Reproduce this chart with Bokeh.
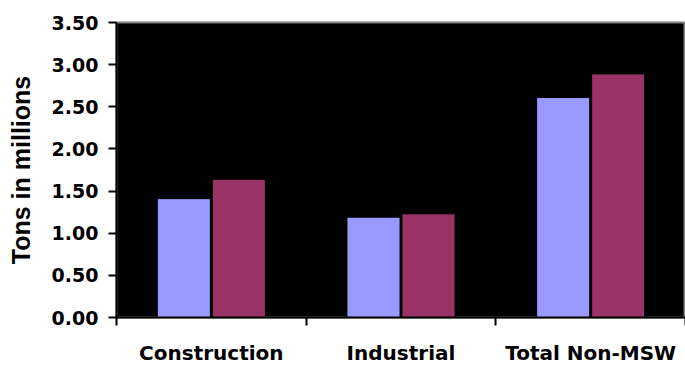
from bokeh.plotting import figure
from bokeh.models import ColumnDataSource, Range1d, FixedTicker, NumeralTickFormatter
from bokeh.embed import file_html
from bokeh.resources import INLINE

# Waste generation by source, tons in millions
categories = ["Construction", "Industrial", "Total Non-MSW"]
series_a = [1.41, 1.19, 2.61]
series_b = [1.64, 1.23, 2.89]
y_ticks = [0.0, 0.5, 1.0, 1.5, 2.0, 2.5, 3.0, 3.5]

centers = [i + 0.5 for i in range(len(categories))]
bar_w = 0.28
shift = 0.145

src = ColumnDataSource(dict(
    xa=[c - shift for c in centers],
    xb=[c + shift for c in centers],
    a=series_a,
    b=series_b,
))

p = figure(width=685, height=368, output_backend="svg", toolbar_location=None,
           x_range=Range1d(0, len(categories)), y_range=Range1d(0, 3.5),
           min_border_left=116, min_border_right=0, min_border_top=22,
           min_border_bottom=51)

p.background_fill_color = "black"
p.border_fill_color = "white"
p.outline_line_color = "#808080"
p.outline_line_width = 2
p.xgrid.visible = False
p.ygrid.visible = False

p.vbar(x="xa", top="a", width=bar_w, bottom=0, source=src,
       fill_color="#9999FF", line_color="black", line_width=1)
p.vbar(x="xb", top="b", width=bar_w, bottom=0, source=src,
       fill_color="#993366", line_color="black", line_width=1)

# x axis: labels at category centres, ticks at category boundaries
p.xaxis.ticker = FixedTicker(ticks=centers,
                             minor_ticks=list(range(len(categories) + 1)))
p.xaxis.major_label_overrides = {c: name for c, name in zip(centers, categories)}
p.xaxis.major_tick_line_color = None
p.xaxis.major_tick_out = 0
p.xaxis.major_tick_in = 0
p.xaxis.minor_tick_out = 8
p.xaxis.minor_tick_in = 0
p.xaxis.minor_tick_line_color = "black"
p.xaxis.minor_tick_line_width = 2
p.xaxis.axis_line_color = "black"
p.xaxis.axis_line_width = 2
p.xaxis.major_label_standoff = 15
p.xaxis.major_label_text_font = "DejaVu Sans"
p.xaxis.major_label_text_font_style = "bold"
p.xaxis.major_label_text_font_size = "20px"
p.xaxis.major_label_text_color = "black"

# y axis
p.yaxis.ticker = FixedTicker(ticks=y_ticks)
p.yaxis.formatter = NumeralTickFormatter(format="0.00")
p.yaxis.minor_tick_line_color = None
p.yaxis.major_tick_out = 8
p.yaxis.major_tick_in = 0
p.yaxis.major_tick_line_width = 2
p.yaxis.major_tick_line_color = "black"
p.yaxis.axis_line_color = "black"
p.yaxis.axis_line_width = 2
p.yaxis.major_label_standoff = 10
p.yaxis.major_label_text_font = "DejaVu Sans"
p.yaxis.major_label_text_font_style = "bold"
p.yaxis.major_label_text_font_size = "19px"
p.yaxis.major_label_text_color = "black"
p.yaxis.axis_label = "Tons in millions"
p.yaxis.axis_label_text_font = "Liberation Sans"
p.yaxis.axis_label_text_font_style = "bold"
p.yaxis.axis_label_text_font_size = "25px"
p.yaxis.axis_label_text_color = "black"
p.yaxis.axis_label_standoff = 14

open("out.html", "w").write(file_html(p, INLINE))
